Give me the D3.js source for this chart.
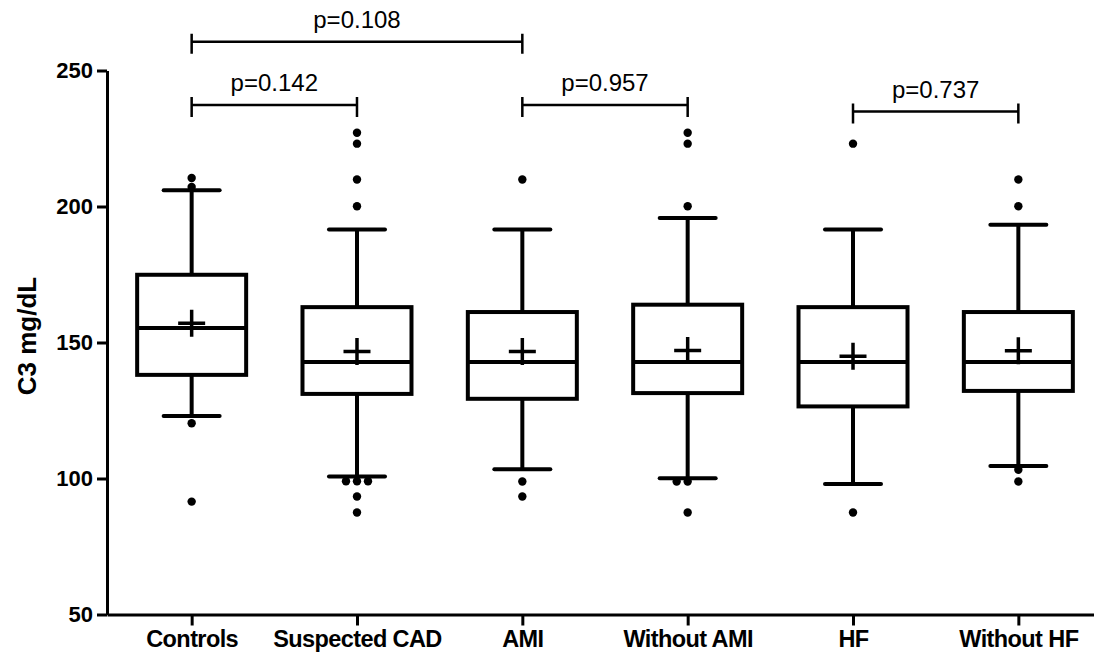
<!DOCTYPE html>
<html>
<head>
<meta charset="utf-8">
<script src="https://cdn.jsdelivr.net/npm/d3@7"></script>
<style>
	body{ margin:0; background:#fff; }
	svg text{ font-family:"Liberation Sans", Arial, sans-serif; fill:#000; }
	.axis path, .axis line{ stroke:#000; stroke-width:3; }
	.axis text{ font-size:22px; font-weight:bold; }
	.xaxis text{ font-size:23.5px; letter-spacing:-0.6px; }
	.box{ fill:#fff; stroke:#000; stroke-width:4; }
	.whisker, .cap, .median{ stroke:#000; stroke-width:4; }
	.cap{ stroke-linecap:round; }
	.mean{ stroke:#000; stroke-width:3.5; fill:none; }
	.bracket{ stroke:#000; stroke-width:2.5; fill:none; }
	.ptext{ font-size:24px; }
</style>
</head>
<body>
<svg id="vis"></svg>
<script>
// C3 (mg/dL) by group
var categories = ['Controls','Suspected CAD','AMI','Without AMI','HF','Without HF'];
var whiskerLow  = [123.0, 100.7, 103.4, 100.1,  98.0, 104.6];
var quart1      = [138.1, 131.1, 129.3, 131.4, 126.5, 132.2];
var medians     = [155.3, 142.8, 142.8, 142.8, 142.8, 142.8];
var quart3      = [174.9, 163.0, 161.2, 163.9, 163.0, 161.2];
var whiskerHigh = [206.0, 191.5, 191.5, 195.8, 191.5, 193.3];
var means       = [157.1, 146.7, 146.7, 147.1, 144.9, 147.0];
var outliers = [
	[210.5, 207.2, 120.3, 91.5],
	[227.1, 223.1, 209.9, 200.1, 99.0, 99.0, 99.0, 93.4, 87.5],
	[209.9, 98.9, 93.4],
	[227.1, 223.1, 200.1, 98.9, 98.9, 87.5],
	[223.1, 87.5],
	[209.9, 200.1, 103.2, 98.9]
];
var yTicks = [50, 100, 150, 200, 250];

// significance brackets
var compFrom  = ['Controls', 'Controls', 'AMI', 'HF'];
var compTo    = ['AMI', 'Suspected CAD', 'Without AMI', 'Without HF'];
var compLabel = ['p=0.108', 'p=0.142', 'p=0.957', 'p=0.737'];
var compLevel = [260.6, 237.3, 237.3, 234.9];

window.onload = function(){

	return {
		w:1094,
		h:657,
		left:107,
		top:70.5,
		bottom:614.5,

		boxHalf:54.5,
		capHalf:28,
		plusHalf:13.5,
		dupStep:11,

		generate:function(){
			var self = this;

			var svg = d3.select('#vis')
				.attr('width', self.w)
				.attr('height', self.h);

			var x = d3.scalePoint()
				.domain(categories)
				.range([self.left, 1103])
				.padding(0.512);
			var y = d3.scaleLinear()
				.domain([50, 250])
				.range([self.bottom, self.top]);

			var data = categories.map(function(c, i){
				return {
					name:c,
					lo:whiskerLow[i], q1:quart1[i], med:medians[i],
					q3:quart3[i], hi:whiskerHigh[i], mean:means[i],
					out:outliers[i]
				};
			});

			// axes
			svg.append('g')
				.classed('axis', true)
				.attr('transform', 'translate(' + self.left + ',0)')
				.call(d3.axisLeft(y).tickValues(yTicks).tickSize(10).tickPadding(4).tickSizeOuter(0));
			svg.append('g')
				.classed('axis xaxis', true)
				.attr('transform', 'translate(0,' + self.bottom + ')')
				.call(d3.axisBottom(x).tickSize(11).tickPadding(5).tickSizeOuter(0));

			svg.append('text')
				.attr('transform', 'translate(27,336) rotate(-90)')
				.attr('text-anchor', 'middle')
				.attr('dominant-baseline', 'central')
				.style('font-size', '26px')
				.style('font-weight', 'bold')
				.text('C3 mg/dL');

			var g = svg.selectAll('g.grp')
				.data(data)
				.enter().append('g')
				.classed('grp', true)
				.attr('transform', function(d){ return 'translate(' + x(d.name) + ',0)'; });

			// whiskers
			g.append('line').classed('whisker', true)
				.attr('y1', function(d){ return y(d.q3); })
				.attr('y2', function(d){ return y(d.hi); });
			g.append('line').classed('whisker', true)
				.attr('y1', function(d){ return y(d.q1); })
				.attr('y2', function(d){ return y(d.lo); });
			g.selectAll('line.cap')
				.data(function(d){ return [d.hi, d.lo]; })
				.enter().append('line').classed('cap', true)
				.attr('x1', -self.capHalf)
				.attr('x2', self.capHalf)
				.attr('y1', function(v){ return y(v); })
				.attr('y2', function(v){ return y(v); });

			// box + median
			g.append('rect').classed('box', true)
				.attr('x', -self.boxHalf)
				.attr('width', self.boxHalf*2)
				.attr('y', function(d){ return y(d.q3); })
				.attr('height', function(d){ return y(d.q1) - y(d.q3); });
			g.append('line').classed('median', true)
				.attr('x1', -self.boxHalf)
				.attr('x2', self.boxHalf)
				.attr('y1', function(d){ return y(d.med); })
				.attr('y2', function(d){ return y(d.med); });

			// mean as a plus
			g.append('path').classed('mean', true)
				.attr('d', function(d){
					var m = y(d.mean), p = self.plusHalf;
					return 'M' + (-p) + ',' + m + 'H' + p + 'M0,' + (m - p) + 'V' + (m + p);
				});

			// outliers, equal values spread sideways
			g.selectAll('circle.out')
				.data(function(d){
					var counts = {}, seen = {};
					d.out.forEach(function(v){ counts[v] = (counts[v] || 0) + 1; });
					return d.out.map(function(v){
						var k = seen[v] || 0;
						seen[v] = k + 1;
						return { v:v, k:k - Math.floor(counts[v]/2) };
					});
				})
				.enter().append('circle').classed('out', true)
				.attr('cx', function(o){ return o.k*self.dupStep; })
				.attr('cy', function(o){ return y(o.v); })
				.attr('r', 4.2);

			// brackets
			var comps = compLabel.map(function(l, i){
				return { a:x(compFrom[i]), b:x(compTo[i]), yy:y(compLevel[i]), label:l };
			});
			var bg = svg.selectAll('g.comp')
				.data(comps)
				.enter().append('g')
				.classed('comp', true);
			bg.append('path').classed('bracket', true)
				.attr('d', function(c){
					return 'M' + c.a + ',' + (c.yy - 8) + 'V' + (c.yy + 12) +
						'M' + c.a + ',' + c.yy + 'H' + c.b +
						'M' + c.b + ',' + (c.yy - 8) + 'V' + (c.yy + 12);
				});
			bg.append('text').classed('ptext', true)
				.attr('x', function(c){ return (c.a + c.b)/2; })
				.attr('y', function(c){ return c.yy - 14; })
				.attr('text-anchor', 'middle')
				.text(function(c){ return c.label; });
		}
	}
}().generate();
</script>
</body>
</html>
